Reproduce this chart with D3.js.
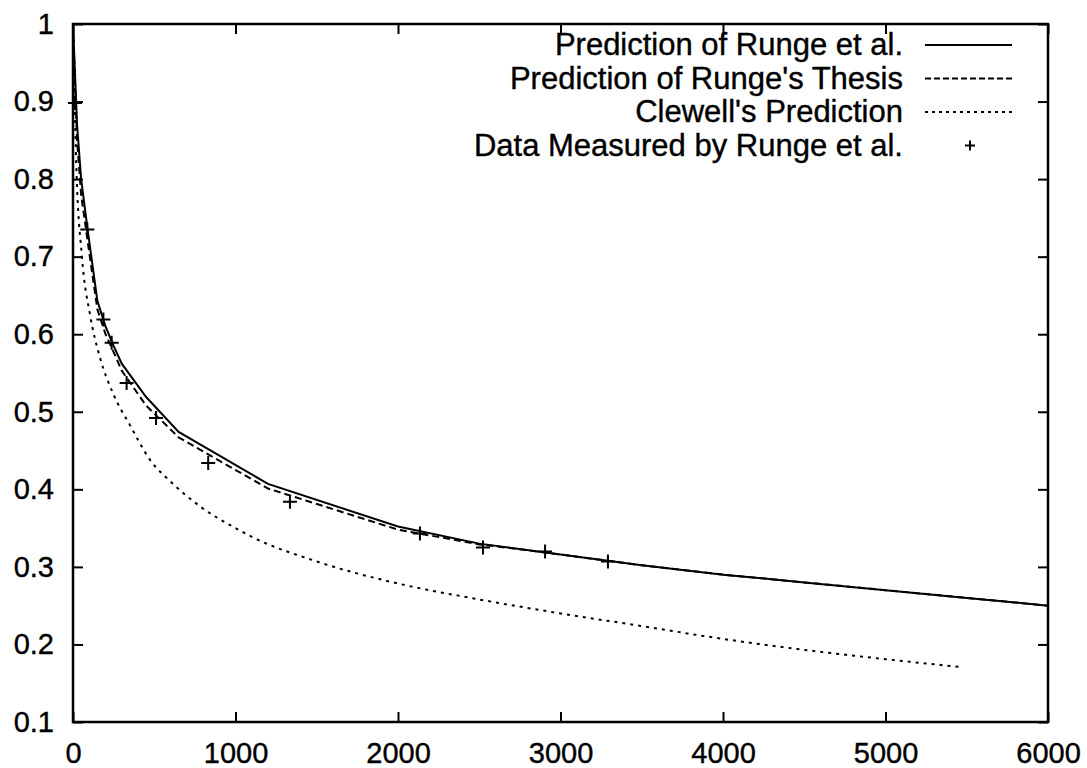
<!DOCTYPE html>
<html>
<head>
<meta charset="utf-8">
<script src="https://cdn.jsdelivr.net/npm/d3@7"></script>
<style>
  body { margin: 0; background: #fff; }
  svg text { font-family: "Liberation Sans", Arial, Helvetica, sans-serif; fill: #000; stroke: #000; stroke-width: 0.4px; }
</style>
</head>
<body>
<div id="chart"></div>
<script>
// x values (common abscissa) and series
const rungeX = [0, 25, 50, 90, 150, 200, 250, 300, 450, 650, 1200, 2000, 2500, 3000, 3500, 4000, 4500, 5000, 5500, 6000];
const rungeY = [1.0, 0.87, 0.80, 0.735, 0.643, 0.610, 0.585, 0.562, 0.519, 0.474, 0.407, 0.352, 0.330, 0.316, 0.302, 0.290, 0.280, 0.270, 0.260, 0.250];

const thesisX = [0, 25, 50, 90, 150, 200, 250, 300, 450, 650, 1200, 2000, 2500, 2700, 3000, 3500, 4000, 4500, 5000, 5500, 6000];
const thesisY = [1.0, 0.85, 0.78, 0.72, 0.632, 0.600, 0.577, 0.553, 0.508, 0.467, 0.401, 0.348, 0.329, 0.324, 0.316, 0.302, 0.290, 0.280, 0.270, 0.260, 0.250];

const clewellX = [0, 20, 55, 105, 166, 250, 350, 474, 600, 782, 1000, 1108, 1500, 2012, 2500, 3000, 3551, 3877, 4500, 5000, 5458];
const clewellY = [1.0, 0.82, 0.70, 0.625, 0.570, 0.522, 0.483, 0.438, 0.410, 0.378, 0.350, 0.338, 0.307, 0.278, 0.258, 0.240, 0.222, 0.211, 0.193, 0.181, 0.171];

const measuredX = [12, 88, 187, 238, 330, 511, 832, 1335, 2135, 2523, 2905, 3292];
const measuredY = [0.898, 0.735, 0.619, 0.589, 0.537, 0.492, 0.434, 0.384, 0.343, 0.325, 0.320, 0.307];

const xTicks = [0, 1000, 2000, 3000, 4000, 5000, 6000];
const yTicks = [0.1, 0.2, 0.3, 0.4, 0.5, 0.6, 0.7, 0.8, 0.9, 1];

const legendLabels = ["Prediction of Runge et al.", "Prediction of Runge's Thesis", "Clewell's Prediction", "Data Measured by Runge et al."];

const W = 1087, H = 768;
const margin = {top: 24, right: 39, bottom: 46, left: 73};
const width = W - margin.left - margin.right,
      height = H - margin.top - margin.bottom;

const svg = d3.select("#chart").append("svg")
    .attr("width", W)
    .attr("height", H);

const g = svg.append("g")
    .attr("transform", "translate(" + margin.left + "," + margin.top + ")");

const x = d3.scaleLinear().domain([0, 6000]).range([0, width]);
const y = d3.scaleLinear().domain([0.1, 1]).range([height, 0]);

const fmt = d3.format("~g");
const tickLen = 10;

// axes: labels on bottom/left, ticks pointing inward, mirrored on top/right
g.append("g")
    .attr("transform", "translate(0," + height + ")")
    .call(d3.axisBottom(x).tickValues(xTicks).tickFormat(fmt).tickSizeInner(-tickLen).tickSizeOuter(0).tickPadding(20))
    .call(ax => ax.select(".domain").remove());
g.append("g")
    .call(d3.axisTop(x).tickValues(xTicks).tickFormat("").tickSizeInner(-tickLen).tickSizeOuter(0))
    .call(ax => ax.select(".domain").remove());
g.append("g")
    .call(d3.axisLeft(y).tickValues(yTicks).tickFormat(fmt).tickSizeInner(-tickLen).tickSizeOuter(0).tickPadding(19))
    .call(ax => ax.select(".domain").remove());
g.append("g")
    .attr("transform", "translate(" + width + ",0)")
    .call(d3.axisRight(y).tickValues(yTicks).tickFormat("").tickSizeInner(-tickLen).tickSizeOuter(0))
    .call(ax => ax.select(".domain").remove());

g.selectAll(".tick line").attr("stroke", "#000").attr("stroke-width", 2);
g.selectAll(".tick text").style("font-size", "29px").attr("fill", "#000");

// frame
g.append("rect")
    .attr("width", width)
    .attr("height", height)
    .attr("fill", "none")
    .attr("stroke", "#000")
    .attr("stroke-width", 2.5);

const line = d3.line()
    .x(d => x(d[0]))
    .y(d => y(d[1]));

const series = [
    {xs: rungeX, ys: rungeY, dash: null, curve: d3.curveLinear},
    {xs: thesisX, ys: thesisY, dash: "7,4", curve: d3.curveLinear},
    {xs: clewellX, ys: clewellY, dash: "3,5", curve: d3.curveMonotoneX}
];

series.forEach(s => {
    g.append("path")
        .datum(d3.zip(s.xs, s.ys))
        .attr("fill", "none")
        .attr("stroke", "#000")
        .attr("stroke-width", 2)
        .attr("stroke-dasharray", s.dash)
        .attr("d", line.curve(s.curve));
});

// measured points as plus signs
const pts = d3.zip(measuredX, measuredY);
const arm = 7;
g.selectAll(".pt")
    .data(pts)
    .enter().append("path")
    .attr("class", "pt")
    .attr("d", d => "M" + (x(d[0]) - arm) + "," + y(d[1]) + "h" + (2 * arm) +
                    "M" + x(d[0]) + "," + (y(d[1]) - arm) + "v" + (2 * arm))
    .attr("stroke", "#000")
    .attr("stroke-width", 2);

// legend
const legX = 903, lineX0 = 925, lineX1 = 1012, legY0 = 55, legDy = 33.5;
const legDash = [null, "6,3", "3,4"];
legendLabels.forEach((lab, i) => {
    const yy = legY0 + i * legDy;
    svg.append("text")
        .attr("x", legX)
        .attr("y", yy)
        .attr("text-anchor", "end")
        .style("font-size", "31px")
        .text(lab);
    if (i < 3) {
        svg.append("line")
            .attr("x1", lineX0).attr("x2", lineX1)
            .attr("y1", yy - 10).attr("y2", yy - 10)
            .attr("stroke", "#000")
            .attr("stroke-width", 2)
            .attr("stroke-dasharray", legDash[i]);
    } else {
        const cx = 970, cy = yy - 10, a = 5;
        svg.append("path")
            .attr("d", "M" + (cx - a) + "," + cy + "h" + (2 * a) + "M" + cx + "," + (cy - a) + "v" + (2 * a))
            .attr("stroke", "#000")
            .attr("stroke-width", 2);
    }
});
</script>
</body>
</html>
